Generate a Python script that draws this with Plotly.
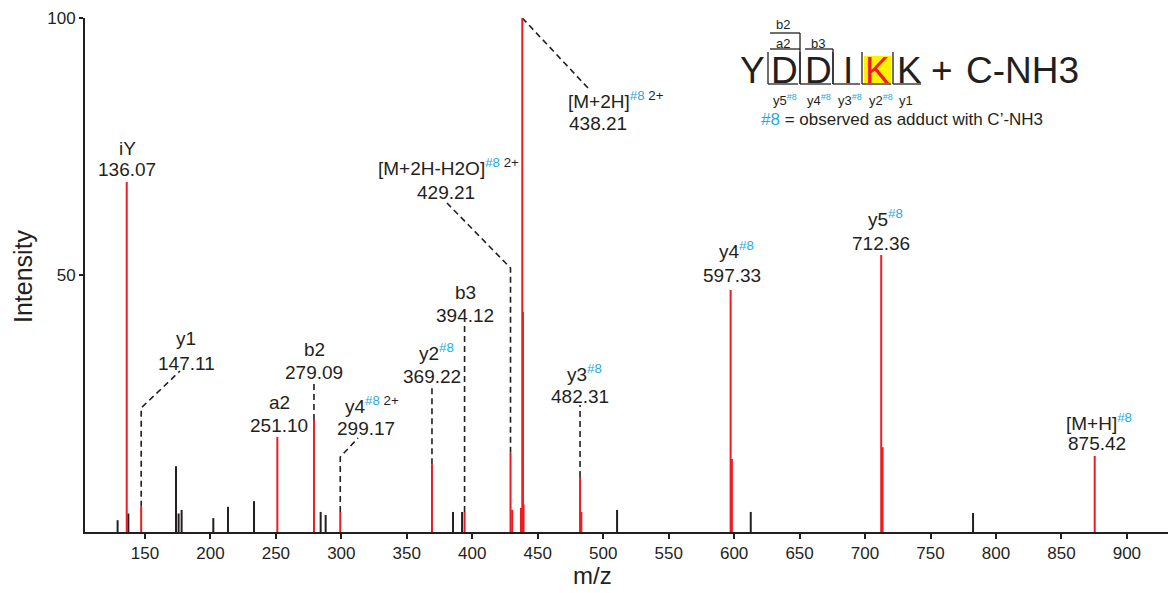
import plotly.graph_objects as go

# ---------------- data ----------------
black_mz = [129.1, 137.3, 173.7, 175.7, 178.0, 202.2, 213.4, 233.3, 284.2, 288.0,
            385.3, 392.2, 510.6, 612.7, 782.5]
black_int = [2.3, 3.6, 12.8, 3.6, 4.3, 2.7, 4.9, 6.0, 3.9, 3.3,
             3.9, 3.9, 4.3, 3.9, 3.7]

red_mz = [136.07, 147.11, 251.10, 279.09, 299.17, 369.22, 394.12, 429.21, 430.5,
          437.2, 438.21, 438.71, 439.2, 482.31, 483.3, 597.33, 598.3, 712.36, 713.4, 875.42]
red_int = [68.1, 4.9, 18.5, 21.8, 3.9, 13.2, 3.9, 15.4, 4.3,
           4.7, 100, 42.8, 5.4, 10.7, 3.9, 47.1, 14.2, 53.9, 16.5, 14.8]

x_ticks = [150, 200, 250, 300, 350, 400, 450, 500, 550, 600, 650, 700, 750, 800, 850, 900]
y_ticks = [50, 100]

# ---------------- layout constants ----------------
W, H = 1171, 593
ML, MR, MT, MB = 85, 3, 18, 61
X0, X1 = 104.2, 931.4
Y0, Y1 = 0, 100
PW, PH = W - ML - MR, H - MT - MB

RED = '#ED1C24'
BLK = '#231F20'
CYAN = '#27AAE1'
FONT = 'Liberation Sans, Arial, sans-serif'


def px(x):
    return (x - ML) / PW


def py(y):
    return (H - MB - y) / PH


def mz_of(x):
    return X0 + (x - ML) / PW * (X1 - X0)


def int_of(y):
    return Y0 + (H - MB - y) / PH * (Y1 - Y0)


def sticks(mzs, ints):
    xs, ys = [], []
    for m, h in zip(mzs, ints):
        xs += [m, m, None]
        ys += [0, h, None]
    return xs, ys


fig = go.Figure()

# leader (dashed) lines: start from peak top (data), then to label (pixel layout)
leaders = [
    (147.11, 4.9, [(None, 408), (180, 371)]),
    (279.09, 21.8, [(None, 382)]),
    (299.17, 3.9, [(None, 457), (358, 438)]),
    (369.22, 13.2, [(None, 388)]),
    (394.12, 3.9, [(None, 326)]),
    (429.21, 15.4, [(None, 268), (447, 203)]),
    (438.21, 100, [(588, 88)]),
    (482.31, 10.7, [(None, 405)]),
]
for m, h, pts in leaders:
    xs, ys = [m], [h]
    for (xp, yp) in pts:
        xs.append(m if xp is None else mz_of(xp))
        ys.append(int_of(yp))
    fig.add_trace(go.Scatter(x=xs, y=ys, mode='lines',
                             line=dict(color=BLK, width=1.6, dash='6px,4px'),
                             hoverinfo='skip', showlegend=False))

bx, by = sticks(black_mz, black_int)
fig.add_trace(go.Scatter(x=bx, y=by, mode='lines', line=dict(color=BLK, width=2),
                         showlegend=False, hoverinfo='skip'))
rx, ry = sticks(red_mz, red_int)
fig.add_trace(go.Scatter(x=rx, y=ry, mode='lines', line=dict(color=RED, width=2),
                         showlegend=False, hoverinfo='skip'))

sup8 = "<sup><span style='color:%s'>#8</span></sup>" % CYAN
sup8_2 = "<sup><span style='color:%s'>#8</span> 2+</sup>" % CYAN

labels = [
    ("iY", 127, 148, 'center'), ("136.07", 127, 170, 'center'),
    ("y1", 186, 338, 'center'), ("147.11", 186, 363, 'center'),
    ("a2", 279, 402, 'center'), ("251.10", 279, 425, 'center'),
    ("b2", 314, 350, 'center'), ("279.09", 314, 372, 'center'),
    ("y4" + sup8_2, 372, 405, 'center'), ("299.17", 366, 428, 'center'),
    ("y2" + sup8, 436, 352, 'center'), ("369.22", 432, 376, 'center'),
    ("b3", 465, 292, 'center'), ("394.12", 465, 316, 'center'),
    ("[M+2H-H2O]" + sup8_2, 448, 167, 'center'), ("429.21", 446, 192, 'center'),
    ("[M+2H]" + sup8_2, 566, 100, 'left'), ("438.21", 598, 123, 'center'),
    ("y3" + sup8, 584, 373, 'center'), ("482.31", 580, 396, 'center'),
    ("y4" + sup8, 736, 250, 'center'), ("597.33", 732, 275, 'center'),
    ("y5" + sup8, 885, 218, 'center'), ("712.36", 881, 243, 'center'),
    ("[M+H]" + sup8, 1099, 422, 'center'), ("875.42", 1097, 443, 'center'),
]
annotations = []
for t, xp, yp, anc in labels:
    annotations.append(dict(text=t, x=px(xp), y=py(yp), xref='paper', yref='paper',
                            xanchor=anc, yanchor='middle', showarrow=False,
                            font=dict(family=FONT, size=19, color=BLK)))

# axis titles
annotations.append(dict(text="Intensity", x=px(23), y=py(276), xref='paper', yref='paper',
                        textangle=-90, showarrow=False, xanchor='center', yanchor='middle',
                        font=dict(family=FONT, size=25, color=BLK)))
annotations.append(dict(text="m/z", x=px(592), y=py(575), xref='paper', yref='paper',
                        showarrow=False, xanchor='center', yanchor='middle',
                        font=dict(family=FONT, size=24, color=BLK)))

# peptide sequence
letters = [("Y", 752, BLK), ("D", 784, BLK), ("D", 818, BLK), ("I", 848, BLK),
           ("K", 877, RED), ("K", 909, BLK), ("+", 942, BLK)]
shapes = []
shapes.append(dict(type='rect', xref='paper', yref='paper', x0=px(864), x1=px(891),
                   y0=py(83), y1=py(56), fillcolor='#FFF200', line=dict(width=0), layer='below'))
for ch, xp, col in letters:
    annotations.append(dict(text=ch, x=px(xp), y=py(71), xref='paper', yref='paper',
                            showarrow=False, xanchor='center', yanchor='middle',
                            font=dict(family=FONT, size=37, color=col)))
annotations.append(dict(text="C-NH3", x=px(964), y=py(71), xref='paper', yref='paper',
                        showarrow=False, xanchor='left', yanchor='middle',
                        font=dict(family=FONT, size=37, color=BLK)))


def seg(x0, y0, x1, y1):
    shapes.append(dict(type='line', xref='paper', yref='paper', x0=px(x0), y0=py(y0),
                       x1=px(x1), y1=py(y1), line=dict(color=BLK, width=1.3)))


# b/a brackets (above)
seg(770, 33, 800, 33)
seg(770, 49, 800, 49)
seg(800, 33, 800, 84)
seg(805, 49, 833, 49)
seg(833, 49, 833, 84)
# y brackets (below)
seps = [768, 800, 833, 862, 893]
ends = [798, 831, 860, 891, 921]
for s, e in zip(seps, ends):
    seg(s, 52, s, 84)
    seg(s, 84, e, 84)

small = [("b2", 783, 25), ("a2", 783, 43), ("b3", 818, 43),
         ("y5" + sup8, 785, 100), ("y4" + sup8, 819, 100), ("y3" + sup8, 850, 100),
         ("y2" + sup8, 881, 100), ("y1", 906, 100)]
for t, xp, yp in small:
    annotations.append(dict(text=t, x=px(xp), y=py(yp), xref='paper', yref='paper',
                            showarrow=False, xanchor='center', yanchor='middle',
                            font=dict(family=FONT, size=13, color=BLK)))
annotations.append(dict(text="<span style='color:%s'>#8</span> = observed as adduct with C’-NH3" % CYAN,
                        x=px(902), y=py(120), xref='paper', yref='paper', showarrow=False,
                        xanchor='center', yanchor='middle',
                        font=dict(family=FONT, size=17, color=BLK)))

fig.update_layout(
    width=W, height=H,
    margin=dict(l=ML, r=MR, t=MT, b=MB, pad=0),
    paper_bgcolor='white', plot_bgcolor='white',
    showlegend=False,
    annotations=annotations,
    shapes=shapes,
    xaxis=dict(range=[X0, X1], tickvals=x_ticks, ticks='outside', ticklen=5, tickwidth=1.5,
               tickcolor=BLK, showline=True, linecolor=BLK, linewidth=2, showgrid=False,
               zeroline=False, tickfont=dict(family=FONT, size=17, color=BLK)),
    yaxis=dict(range=[Y0, Y1], tickvals=y_ticks, ticks='outside', ticklen=4, tickwidth=1.5,
               tickcolor=BLK, showline=True, linecolor=BLK, linewidth=2, showgrid=False,
               zeroline=False, tickfont=dict(family=FONT, size=17, color=BLK)),
)

fig.write_html("out.html")
